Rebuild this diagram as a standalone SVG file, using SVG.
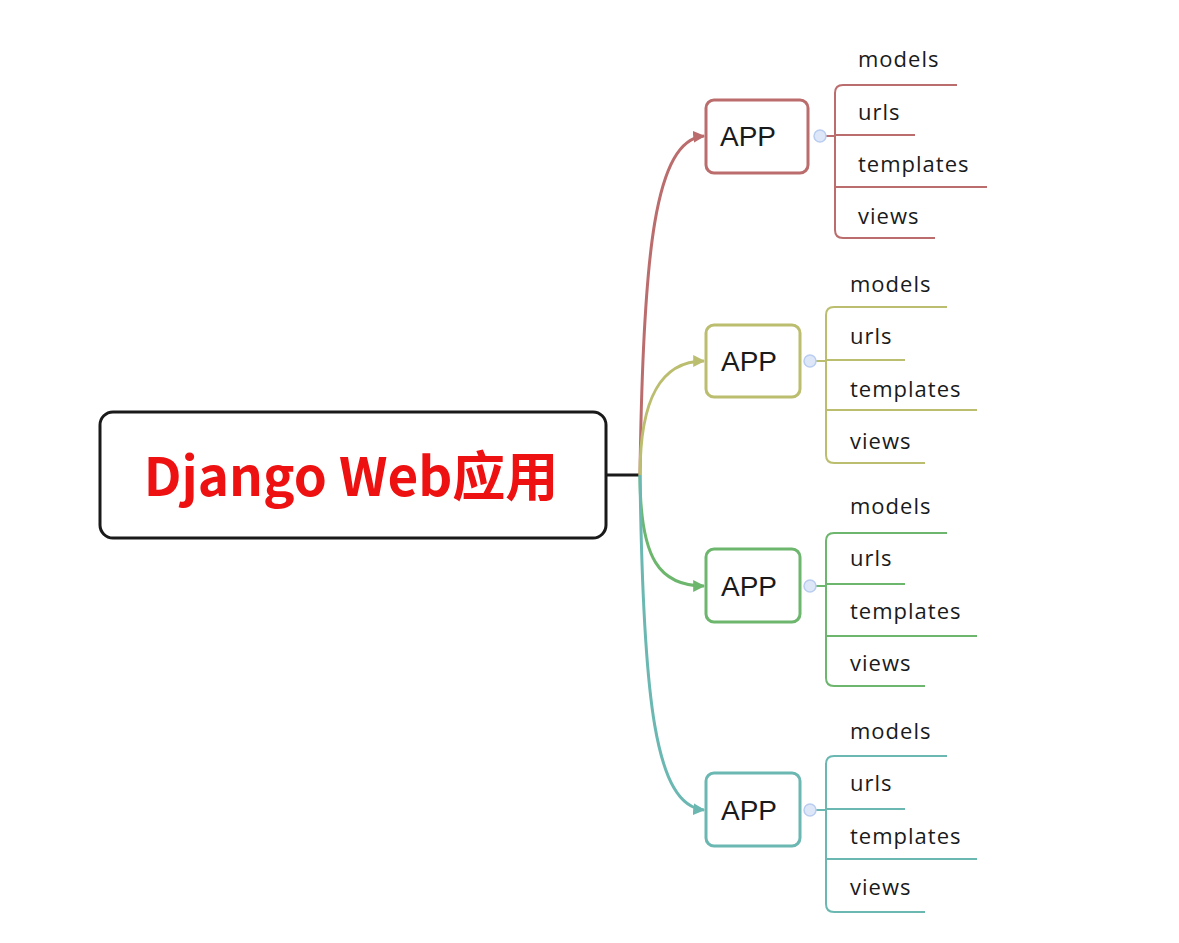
<svg xmlns="http://www.w3.org/2000/svg" width="1179" height="943" viewBox="0 0 1179 943">
<style>
.root{fill:#fff;stroke:#1a1a1a;stroke-width:3}
.rt{font-family:"Noto Sans CJK SC","Liberation Sans",sans-serif;font-weight:bold;font-size:53px;fill:#ee1111;text-anchor:middle}
.box{fill:#fff;stroke-width:3}
.at{font-family:"Liberation Sans",Arial,sans-serif;font-size:28px;fill:#1a1a1a;text-anchor:middle}
.ct{font-family:"Open Sans","Liberation Sans",sans-serif;font-size:22px;letter-spacing:1px;fill:#1a1a1a}
.br{fill:none;stroke-width:2}
.cur{fill:none;stroke-width:3}
.tog{fill:#dde7f8;stroke:#b9cdf0;stroke-width:1.5}
.c1{stroke:#bb6d6d}.c2{stroke:#bcbe6f}.c3{stroke:#6db66d}.c4{stroke:#6bb8b2}
</style>
<defs>
<marker id="m1" viewBox="0 0 10 10" refX="9" refY="5" markerWidth="4" markerHeight="4" orient="auto"><path d="M0,0L10,5L0,10z" fill="#bb6d6d"/></marker>
<marker id="m2" viewBox="0 0 10 10" refX="9" refY="5" markerWidth="4" markerHeight="4" orient="auto"><path d="M0,0L10,5L0,10z" fill="#bcbe6f"/></marker>
<marker id="m3" viewBox="0 0 10 10" refX="9" refY="5" markerWidth="4" markerHeight="4" orient="auto"><path d="M0,0L10,5L0,10z" fill="#6db66d"/></marker>
<marker id="m4" viewBox="0 0 10 10" refX="9" refY="5" markerWidth="4" markerHeight="4" orient="auto"><path d="M0,0L10,5L0,10z" fill="#6bb8b2"/></marker>
</defs>
<rect width="1179" height="943" fill="#fff"/>
<g id="connectors">
<path d="M606,475H640" fill="none" stroke="#1a1a1a" stroke-width="3"/>
<path class="cur c1" d="M640,475C643,250 655,140 704,136" marker-end="url(#m1)"/>
<path class="cur c2" d="M640,475C640,400 660,361 704,361" marker-end="url(#m2)"/>
<path class="cur c3" d="M640,475C640,560 660,586 704,586" marker-end="url(#m3)"/>
<path class="cur c4" d="M640,475C643,700 655,806 704,810" marker-end="url(#m4)"/>
</g>
<g id="root">
<rect class="root" x="100" y="412" width="506" height="126" rx="13"/>
<text class="rt" x="351" y="496">Django Web应用</text>
</g>
<g id="app1">
<rect class="box c1" x="706" y="100" width="102" height="73" rx="8"/>
<text class="at" x="748" y="146">APP</text>
<path class="br c1" d="M826,136H835M957,85H843Q835,85 835,93V230Q835,238 843,238H935M835,135H915M835,187H987"/>
<circle class="tog" cx="820" cy="136" r="6"/>
<text class="ct" x="858" y="67">models</text>
<text class="ct" x="858" y="120">urls</text>
<text class="ct" x="858" y="172">templates</text>
<text class="ct" x="858" y="224">views</text>
</g>
<g id="app2">
<rect class="box c2" x="706" y="325" width="94" height="72" rx="8"/>
<text class="at" x="749" y="371">APP</text>
<path class="br c2" d="M816,361H826M947,307H834Q826,307 826,315V455Q826,463 834,463H925M826,360H905M826,410H977"/>
<circle class="tog" cx="810" cy="361" r="6"/>
<text class="ct" x="850" y="292">models</text>
<text class="ct" x="850" y="344">urls</text>
<text class="ct" x="850" y="397">templates</text>
<text class="ct" x="850" y="449">views</text>
</g>
<g id="app3">
<rect class="box c3" x="706" y="549" width="94" height="73" rx="8"/>
<text class="at" x="749" y="596">APP</text>
<path class="br c3" d="M816,586H826M947,533H834Q826,533 826,541V678Q826,686 834,686H925M826,584H905M826,636H977"/>
<circle class="tog" cx="810" cy="586" r="6"/>
<text class="ct" x="850" y="514">models</text>
<text class="ct" x="850" y="566">urls</text>
<text class="ct" x="850" y="619">templates</text>
<text class="ct" x="850" y="671">views</text>
</g>
<g id="app4">
<rect class="box c4" x="706" y="773" width="94" height="73" rx="8"/>
<text class="at" x="749" y="820">APP</text>
<path class="br c4" d="M816,810H826M947,756H834Q826,756 826,764V904Q826,912 834,912H925M826,809H905M826,859H977"/>
<circle class="tog" cx="810" cy="810" r="6"/>
<text class="ct" x="850" y="739">models</text>
<text class="ct" x="850" y="791">urls</text>
<text class="ct" x="850" y="844">templates</text>
<text class="ct" x="850" y="895">views</text>
</g>
</svg>
